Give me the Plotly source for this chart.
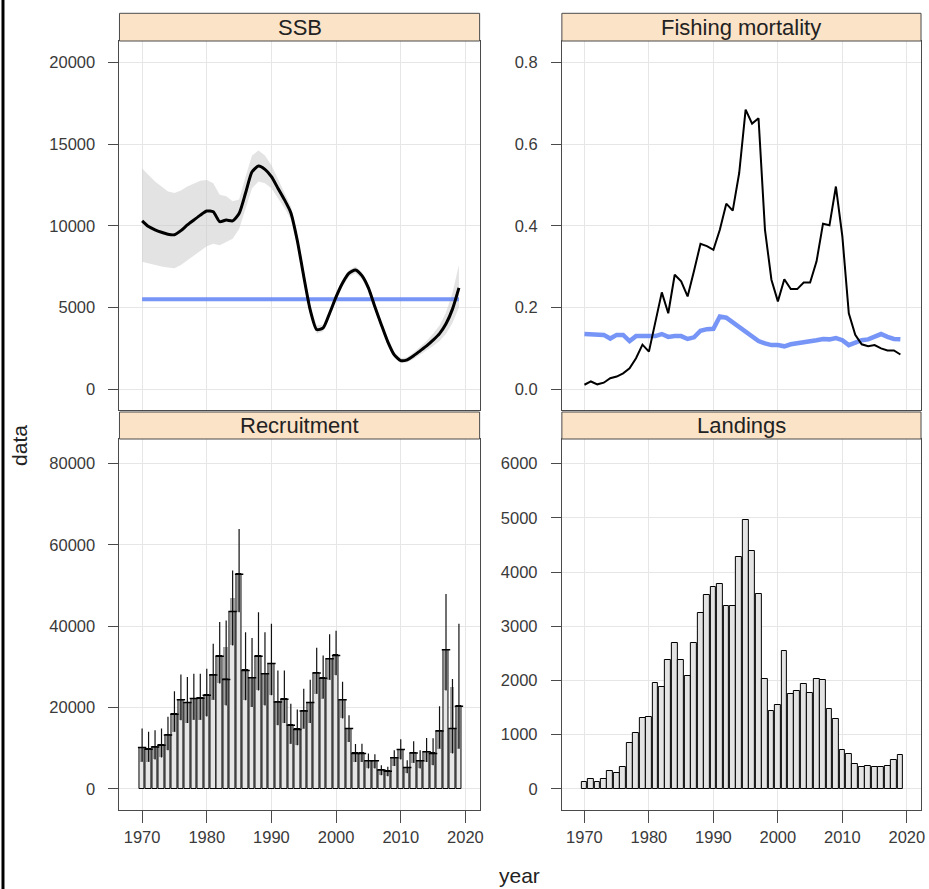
import plotly.graph_objects as go

years = list(range(1970, 2020))

ssb = [10300, 9950, 9750, 9600, 9480, 9450, 9700, 10050, 10350, 10650,
       10900, 10850, 10250, 10350, 10300, 10750, 12000, 13300, 13650, 13450,
       13000, 12300, 11600, 10800, 9100, 6900, 4850, 3650, 3750, 4650,
       5650, 6500, 7100, 7300, 6950, 6200, 5050, 3950, 2900, 2100,
       1750, 1800, 2050, 2350, 2650, 3000, 3400, 4000, 4900, 6200]
ssb_hi = [13500, 13100, 12700, 12400, 12100, 12000, 12150, 12400, 12600, 12750,
          12800, 12600, 11900, 11800, 11500, 11600, 13000, 14300, 14600, 14300,
          13700, 12900, 12100, 11200, 9450, 7200, 5100, 3900, 3950, 4850,
          5850, 6700, 7300, 7500, 7150, 6400, 5250, 4150, 3100, 2250,
          1900, 1950, 2250, 2600, 2950, 3400, 3900, 4700, 5900, 7600]
ssb_lo = [7800, 7700, 7600, 7500, 7450, 7400, 7600, 7900, 8200, 8500,
          8750, 8900, 8800, 9000, 9200, 9800, 11000, 12300, 12700, 12600,
          12300, 11700, 11100, 10400, 8750, 6600, 4600, 3400, 3550, 4450,
          5450, 6300, 6900, 7100, 6750, 6000, 4850, 3750, 2700, 1950,
          1600, 1650, 1850, 2100, 2350, 2650, 2950, 3400, 4050, 5000]
ssb_ref = [5500] * 50

fbar = [0.011, 0.019, 0.012, 0.016, 0.027, 0.031, 0.039, 0.051, 0.076, 0.109,
        0.092, 0.165, 0.237, 0.186, 0.280, 0.264, 0.227, 0.290, 0.356, 0.350,
        0.341, 0.390, 0.454, 0.437, 0.529, 0.684, 0.650, 0.663, 0.390, 0.268,
        0.215, 0.269, 0.245, 0.245, 0.261, 0.261, 0.313, 0.405, 0.401, 0.496,
        0.374, 0.186, 0.133, 0.110, 0.105, 0.108, 0.100, 0.095, 0.095, 0.085]
fref = [0.135, 0.135, 0.135, 0.133, 0.124, 0.133, 0.133, 0.118, 0.130, 0.130,
        0.130, 0.130, 0.135, 0.128, 0.130, 0.130, 0.123, 0.127, 0.143, 0.147,
        0.148, 0.178, 0.175, 0.163, 0.153, 0.140, 0.128, 0.118, 0.112, 0.108,
        0.108, 0.105, 0.110, 0.112, 0.115, 0.118, 0.120, 0.123, 0.122, 0.125,
        0.120, 0.108, 0.115, 0.120, 0.122, 0.130, 0.135, 0.128, 0.123, 0.122]

rec = [10140, 9730, 10300, 10700, 13200, 18300, 21900, 21200, 22200, 22250,
       23000, 28000, 32600, 26900, 43600, 52800, 29100, 27300, 32600, 28300,
       30800, 21350, 22000, 15600, 14600, 19100, 21200, 28500, 27200, 32000,
       32800, 21900, 14800, 8700, 8700, 6900, 6900, 4600, 4300, 7600,
       9650, 5200, 8800, 6900, 9100, 8700, 14200, 34200, 14800, 20300]
rec_lo = [6630, 6630, 7200, 7700, 9500, 14000, 16850, 16200, 17000, 17000,
          17800, 21900, 25900, 20500, 35250, 43400, 21800, 20100, 24200, 20500,
          23000, 15600, 16200, 11100, 10700, 14800, 16200, 23400, 22200, 26800,
          27900, 17300, 11500, 6600, 6600, 5000, 5000, 3350, 3100, 5600,
          7200, 3800, 6400, 5000, 6600, 5800, 9900, 24200, 8700, 9900]
rec_hi = [10140, 9730, 10300, 10700, 13200, 18300, 21900, 21200, 22200, 22250,
          23000, 28000, 32600, 34800, 47000, 52800, 29100, 27300, 32600, 28300,
          30800, 21350, 22000, 15600, 14600, 19100, 21200, 28500, 27200, 32000,
          32800, 21900, 14800, 8700, 8700, 6900, 6900, 4600, 4300, 7600,
          9650, 5200, 8800, 6900, 9100, 8700, 14200, 34200, 25000, 20300]
rec_up = [14800, 14000, 14400, 14800, 17700, 24000, 28100, 27500, 28300, 28300,
          29500, 35700, 41000, 41400, 53700, 63900, 38500, 37100, 43400, 38500,
          40600, 29100, 29100, 20900, 19500, 24600, 26800, 34700, 32800, 38000,
          38900, 26300, 18100, 11000, 11100, 8700, 8500, 5800, 5400, 9500,
          12200, 7000, 11700, 9500, 12500, 12400, 20300, 47900, 27000, 40600]

landings = [129, 172, 117, 172, 325, 300, 393, 853, 1031, 1313,
            1325, 1951, 1877, 2380, 2687, 2380, 2074, 2687, 3245, 3583,
            3718, 3779, 3368, 3380, 4282, 4957, 4380, 3595, 2031, 1429,
            1552, 2534, 1755, 1804, 1939, 1767, 2025, 2000, 1479, 1288,
            724, 638, 466, 400, 420, 400, 400, 420, 530, 630]

panel_titles = ["SSB", "Fishing mortality", "Recruitment", "Landings"]

W, H = 929, 889
FONT = "Liberation Sans, Arial, Helvetica, sans-serif"
AXCOL = "#4a4a4a"
GRID = "#e6e6e6"
BLUE = "rgba(95,130,245,0.85)"
TICKFONT = dict(family=FONT, size=16.5, color="#3a3a3a")
STRIPFONT = dict(family=FONT, size=22, color="#222")
LABFONT = dict(family=FONT, size=21, color="#222")

fig = go.Figure()

# SSB panel
fig.add_trace(go.Scatter(x=years, y=ssb_lo, mode="lines", line=dict(width=0),
                         xaxis="x", yaxis="y", showlegend=False, hoverinfo="skip"))
fig.add_trace(go.Scatter(x=years, y=ssb_hi, mode="lines", line=dict(width=0),
                         fill="tonexty", fillcolor="rgba(200,200,200,0.5)",
                         xaxis="x", yaxis="y", showlegend=False, hoverinfo="skip"))
fig.add_trace(go.Scatter(x=years, y=ssb_ref, mode="lines", line=dict(color=BLUE, width=4),
                         xaxis="x", yaxis="y", showlegend=False))
fig.add_trace(go.Scatter(x=years, y=ssb, mode="lines", line=dict(color="black", width=3, shape="spline", smoothing=0.6),
                         xaxis="x", yaxis="y", showlegend=False))

# F panel
fig.add_trace(go.Scatter(x=years, y=fref, mode="lines", line=dict(color=BLUE, width=4.5),
                         xaxis="x2", yaxis="y2", showlegend=False))
fig.add_trace(go.Scatter(x=years, y=fbar, mode="lines", line=dict(color="black", width=2),
                         xaxis="x2", yaxis="y2", showlegend=False))

# Recruitment panel
fig.add_trace(go.Bar(x=years, y=rec, width=0.85, marker=dict(color="#e6e6e6", line=dict(color="black", width=1)),
                     xaxis="x3", yaxis="y3", showlegend=False))
fig.add_trace(go.Bar(x=years, y=[h - l for h, l in zip(rec_hi, rec_lo)], base=rec_lo, width=0.75,
                     marker=dict(color="rgba(120,120,120,0.65)", line=dict(width=0)),
                     xaxis="x3", yaxis="y3", showlegend=False))
fig.add_trace(go.Scatter(x=years, y=rec_hi, mode="markers",
                         marker=dict(size=0.1, color="rgba(0,0,0,0)"),
                         error_y=dict(type="data", symmetric=False,
                                      array=[u - h for u, h in zip(rec_up, rec_hi)],
                                      arrayminus=[h - l for h, l in zip(rec_hi, rec_lo)],
                                      width=0, thickness=1.2, color="#111"),
                         xaxis="x3", yaxis="y3", showlegend=False))
fig.add_trace(go.Scatter(x=years, y=rec, mode="markers",
                         marker=dict(symbol="line-ew", size=6, line=dict(color="black", width=1.5)),
                         xaxis="x3", yaxis="y3", showlegend=False))

# Landings panel
fig.add_trace(go.Bar(x=years, y=landings, width=0.9, marker=dict(color="#e3e3e3", line=dict(color="black", width=1)),
                     xaxis="x4", yaxis="y4", showlegend=False))

xl = [120 / W, 481.7 / W]
xr = [564.3 / W, 925 / W]
yt = [1 - 410 / H, 1 - 41 / H]
yb = [1 - 810 / H, 1 - 439 / H]
xrange = [1966.5, 2022.2]

def xax(domain, anchor, labels):
    return dict(domain=domain, anchor=anchor, range=xrange, tick0=1970, dtick=10,
                showgrid=True, gridcolor=GRID, gridwidth=1, zeroline=False,
                showline=True, linecolor=AXCOL, linewidth=1, mirror=True,
                ticks="outside" if labels else "", ticklen=12, tickcolor=AXCOL,
                showticklabels=labels, tickfont=TICKFONT)

def yax(domain, anchor, rng, dtick, fmt="d"):
    return dict(domain=domain, anchor=anchor, range=rng, tick0=0, dtick=dtick,
                showgrid=True, gridcolor=GRID, gridwidth=1, zeroline=False,
                showline=True, linecolor=AXCOL, linewidth=1, mirror=True,
                ticks="outside", ticklen=10, tickcolor=AXCOL, ticklabelstandoff=10,
                tickformat=fmt, tickfont=TICKFONT)

shapes = []
annotations = []
strips = [(xl, 13.3, 41, panel_titles[0]), (xr, 13.3, 41, panel_titles[1]),
          (xl, 412, 439, panel_titles[2]), (xr, 412, 439, panel_titles[3])]
for dom, top, bot, title in strips:
    shapes.append(dict(type="rect", xref="paper", yref="paper", x0=dom[0], x1=dom[1],
                       y0=1 - bot / H, y1=1 - top / H, fillcolor="#fbe3c8",
                       line=dict(color=AXCOL, width=1), layer="above"))
    annotations.append(dict(xref="paper", yref="paper", x=(dom[0] + dom[1]) / 2, y=1 - (top + bot) / 2 / H,
                            text=title, showarrow=False, xanchor="center", yanchor="middle",
                            font=STRIPFONT))
shapes.append(dict(type="line", xref="paper", yref="paper", x0=3 / W, x1=3 / W, y0=0, y1=1,
                   line=dict(color="black", width=3)))
annotations.append(dict(xref="paper", yref="paper", x=19 / W, y=1 - 445 / H, text="data", textangle=-90,
                        showarrow=False, xanchor="center", yanchor="middle", font=LABFONT))
annotations.append(dict(xref="paper", yref="paper", x=522 / W, y=1 - 875 / H, text="year",
                        showarrow=False, xanchor="center", yanchor="middle", font=LABFONT))

fig.update_layout(
    width=W, height=H, autosize=False,
    margin=dict(l=0, r=0, t=0, b=0),
    paper_bgcolor="white", plot_bgcolor="white",
    barmode="overlay", bargap=0,
    xaxis=xax(xl, "y", False), yaxis=yax(yt, "x", [-1270, 21300], 5000),
    xaxis2=xax(xr, "y2", False), yaxis2=yax(yt, "x2", [-0.0508, 0.852], 0.2, ".1f"),
    xaxis3=xax(xl, "y3", True), yaxis3=yax(yb, "x3", [-5230, 86060], 20000),
    xaxis4=xax(xr, "y4", True), yaxis4=yax(yb, "x4", [-392, 6455], 1000),
    shapes=shapes, annotations=annotations,
    font=dict(family=FONT),
)

fig.write_html("out.html", config={"displayModeBar": False},
               post_script="document.body.style.margin='0';document.body.style.overflow='hidden';")
